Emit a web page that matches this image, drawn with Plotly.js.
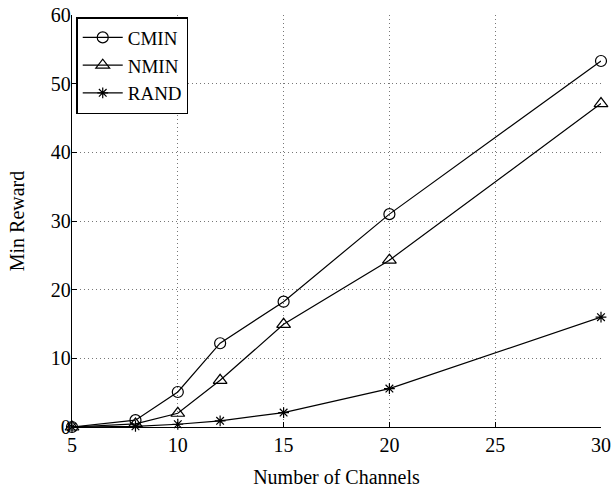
<!DOCTYPE html>
<html>
<head>
<meta charset="utf-8">
<script src="https://cdn.plot.ly/plotly-3.0.1.min.js"></script>
<style>
  html, body { margin: 0; padding: 0; background: #fff; }
  #chart { width: 613px; height: 490px; }
</style>
</head>
<body>
<div id="chart"></div>
<script>
// Number of channels on the x axis
const channels = [5, 8, 10, 12, 15, 20, 30];

// Min reward for each scheme
const cmin = [0, 1.0, 5.1, 12.2, 18.25, 31.0, 53.3];
const nmin = [0, 0.45, 2.0, 6.8, 14.95, 24.3, 47.1];
const rand = [0, 0.1, 0.4, 0.9, 2.1, 5.6, 16.0];

const seriesNames = ['CMIN', 'NMIN', 'RAND'];
const xTicks = [5, 10, 15, 20, 25, 30];
const yTicks = [0, 10, 20, 30, 40, 50, 60];

const serif = 'Liberation Serif, Times New Roman, serif';

function series(name, y, symbol, size) {
  return {
    x: channels, y: y, name: name,
    type: 'scatter', mode: 'lines+markers',
    line: { color: '#000', width: 1.2 },
    marker: { symbol: symbol, size: size, color: '#000',
              line: { color: '#000', width: 1.2 } },
    cliponaxis: false
  };
}

const traces = [
  series(seriesNames[0], cmin, 'circle-open', 11),
  series(seriesNames[1], nmin, 'triangle-up-open', 12),
  series(seriesNames[2], rand, 'asterisk-open', 9)
];

const axisCommon = {
  showline: true, linecolor: '#000', linewidth: 1.3,
  ticks: 'inside', ticklen: 5, tickcolor: '#000',
  showgrid: true, gridcolor: '#777', griddash: '1px,3px', gridwidth: 1,
  zeroline: false, mirror: false,
  tickfont: { family: serif, size: 20, color: '#000' }
};

const layout = {
  width: 613, height: 490,
  margin: { l: 72, r: 12, t: 15, b: 63 },
  paper_bgcolor: '#fff', plot_bgcolor: '#fff',
  showlegend: true,
  font: { family: serif, color: '#000' },
  xaxis: Object.assign({}, axisCommon, {
    range: [5, 30], tickvals: xTicks,
    title: { text: 'Number of Channels', font: { family: serif, size: 20 }, standoff: 14 }
  }),
  yaxis: Object.assign({}, axisCommon, {
    range: [0, 60], tickvals: yTicks,
    ticklabelstandoff: -4,
    title: { text: 'Min Reward', font: { family: serif, size: 20 }, standoff: 20 }
  }),
  legend: {
    x: 0.008, y: 0.995, xanchor: 'left', yanchor: 'top',
    bgcolor: '#fff', bordercolor: '#000', borderwidth: 1.5,
    font: { family: serif, size: 19, color: '#000' },
    itemwidth: 40
  }
};

Plotly.newPlot('chart', traces, layout, { staticPlot: true, displayModeBar: false });
</script>
</body>
</html>
